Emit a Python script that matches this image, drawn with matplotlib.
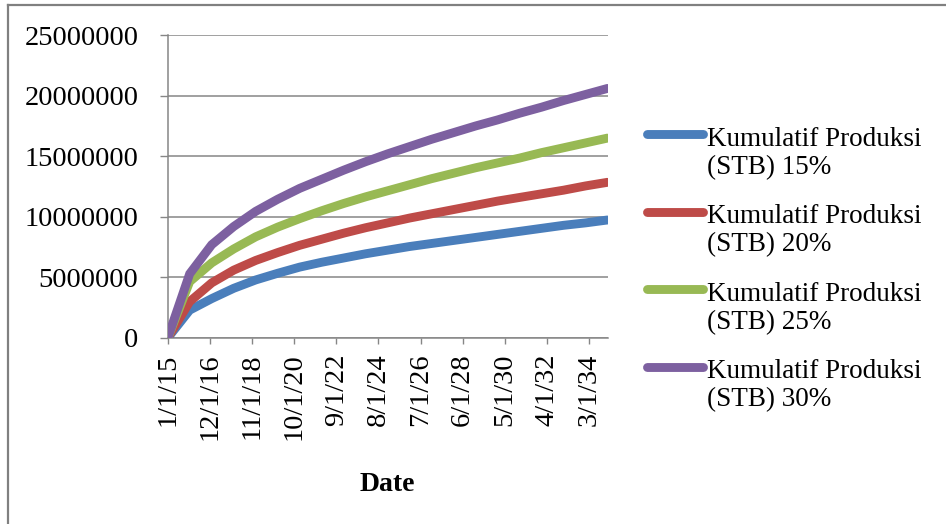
import datetime

import matplotlib
matplotlib.use('Agg')
import matplotlib.pyplot as plt
import matplotlib.dates as mdates
from matplotlib.lines import Line2D
import numpy as np

# yearly points, 1/1/2015 .. 1/1/2035
years = list(range(2015, 2036))

kum_15 = [0, 2.3, 3.25, 4.1, 4.79, 5.34, 5.85, 6.25, 6.6, 6.95, 7.25,
          7.55, 7.8, 8.05, 8.3, 8.55, 8.8, 9.05, 9.3, 9.5, 9.74]
kum_20 = [0, 3.0, 4.55, 5.6, 6.4, 7.05, 7.65, 8.15, 8.65, 9.1, 9.5,
          9.9, 10.25, 10.6, 10.95, 11.3, 11.6, 11.9, 12.2, 12.55, 12.85]
kum_25 = [0, 4.65, 6.2, 7.35, 8.35, 9.15, 9.85, 10.5, 11.1, 11.65, 12.15,
          12.65, 13.15, 13.6, 14.05, 14.45, 14.85, 15.3, 15.7, 16.1, 16.5]
kum_30 = [0, 5.3, 7.7, 9.2, 10.45, 11.45, 12.35, 13.1, 13.85, 14.55, 15.2,
          15.8, 16.4, 16.95, 17.5, 18.0, 18.55, 19.05, 19.6, 20.1, 20.6]

series_labels = ['Kumulatif Produksi\n(STB) 15%', 'Kumulatif Produksi\n(STB) 20%',
                 'Kumulatif Produksi\n(STB) 25%', 'Kumulatif Produksi\n(STB) 30%']
colors = ['#4A7EBB', '#BE4B48', '#98B954', '#7D60A0']

y_ticks = [0, 5000000, 10000000, 15000000, 20000000, 25000000]

dates = [datetime.date(y, 1, 1) for y in years]
x = mdates.date2num(dates)

# x ticks every 23 months starting 1/1/15
tick_dates = []
for i in range(11):
    m = i * 23
    tick_dates.append(datetime.date(2015 + m // 12, m % 12 + 1, 1))
tick_labels = [f'{d.month}/{d.day}/{d.year % 100:02d}' for d in tick_dates]

plt.rcParams['font.family'] = ['Liberation Serif', 'DejaVu Serif']

fig = plt.figure(figsize=(9.46, 5.24), dpi=100)
ax = fig.add_axes((0.1773, 0.355, 0.4649, 0.578))

for vals, col in zip([kum_15, kum_20, kum_25, kum_30], colors):
    ax.plot(x, np.array(vals) * 1e6, color=col, lw=6.4, solid_capstyle='round',
            solid_joinstyle='miter', zorder=3)

ax.set_xlim(x[0], x[-1])
ax.set_ylim(0, 25000000)
ax.set_yticks(y_ticks)
ax.set_yticklabels([str(v) for v in y_ticks])
ax.set_xticks(mdates.date2num(tick_dates))
ax.set_xticklabels(tick_labels, rotation=90)

ax.grid(axis='y', color='#868686', lw=1.1)
ax.set_axisbelow(True)
for s in ['top', 'right']:
    ax.spines[s].set_visible(False)
for s in ['left', 'bottom']:
    ax.spines[s].set_color('#868686')
    ax.spines[s].set_linewidth(1.1)

ax.tick_params(axis='y', length=6, width=1, color='#868686', pad=15, labelsize=20.5)
ax.tick_params(axis='x', length=4, width=1, color='#868686', pad=7, labelsize=20.5)
ax.set_xlabel('Date', fontsize=20, fontweight='bold', labelpad=23)

# legend, handle aligned with first text line
for i, (lab, col) in enumerate(zip(series_labels, colors)):
    ytop = 1 - (134 + i * 77.5) / 524
    fig.add_artist(Line2D([647 / 946, 703 / 946], [ytop, ytop], color=col, lw=6.4,
                          solid_capstyle='round', transform=fig.transFigure))
    fig.text(707 / 946, ytop + 7 / 524, lab, fontsize=19.5, va='top', ha='left',
             linespacing=1.15)

# outer border (left and top only visible)
fig.add_artist(Line2D([8 / 946, 8 / 946], [0, 1 - 5 / 524], color='#808080', lw=1.6,
                      transform=fig.transFigure))
fig.add_artist(Line2D([8 / 946, 1], [1 - 5 / 524, 1 - 5 / 524], color='#808080', lw=1.6,
                      transform=fig.transFigure))

plt.savefig('out.png', dpi=100)
